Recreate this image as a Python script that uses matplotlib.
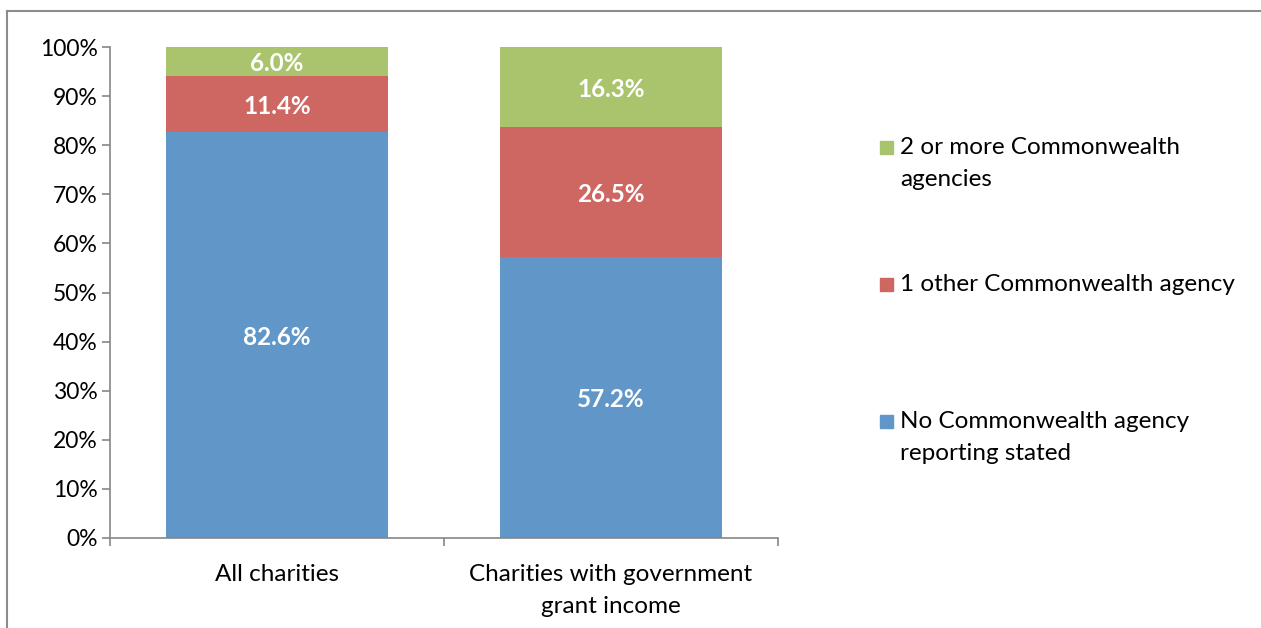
import matplotlib.pyplot as plt
from matplotlib.lines import Line2D
from matplotlib.patches import Rectangle
import numpy as np

categories = ["All charities", "Charities with government\ngrant income"]
series_names = ["No Commonwealth agency\nreporting stated",
                "1 other Commonwealth agency",
                "2 or more Commonwealth\nagencies"]
none_stated = [82.6, 57.2]
one_other = [11.4, 26.5]
two_or_more = [6.0, 16.3]
colors = ["#6196C8", "#CE6661", "#AAC46D"]

plt.rcParams['font.family'] = ['Lato', 'DejaVu Sans']

fig = plt.figure(figsize=(12.61, 6.28), dpi=100)
ax = fig.add_axes([110 / 1261, 1 - 538 / 628, 668 / 1261, 491 / 628])

x = np.arange(len(categories))
bottom = np.zeros(len(categories))
for vals, col in zip([none_stated, one_other, two_or_more], colors):
    bars = ax.bar(x, vals, bottom=bottom, width=0.665, color=col, zorder=2)
    for xi, b, v in zip(x, bottom, vals):
        ax.text(xi, b + v / 2, f"{v:.1f}%", ha='center', va='center_baseline',
                color='white', fontsize=17.5, fontweight='bold')
    bottom += np.array(vals)

ax.set_xlim(-0.5, 1.5)
ax.set_ylim(0, 100)
ax.set_yticks(np.arange(0, 101, 10))
ax.set_yticklabels([f"{v}%" for v in range(0, 101, 10)], fontsize=16.5)
ax.set_xticks([-0.5, 0.5, 1.5])
ax.set_xticklabels([])
for sp in ['top', 'right']:
    ax.spines[sp].set_visible(False)
for sp in ['left', 'bottom']:
    ax.spines[sp].set_color('#868686')
    ax.spines[sp].set_linewidth(1.2)
ax.tick_params(axis='both', direction='out', length=6, color='#868686', width=1.2)
ax.tick_params(axis='y', pad=3)

for xi, lab in zip(x, categories):
    ax.text(xi, -5.2, lab, ha='center', va='top', fontsize=17.5,
            linespacing=1.65, transform=ax.transData, clip_on=False)

# legend drawn by hand, top to bottom
leg_items = [(series_names[2], colors[2], 147),
             (series_names[1], colors[1], 284),
             (series_names[0], colors[0], 421)]
for name, col, ypx in leg_items:
    fig.patches.append(Rectangle((880 / 1261, 1 - (ypx + 7) / 628), 13 / 1261, 13 / 628,
                                 transform=fig.transFigure, color=col))
    fig.text(900 / 1261, 1 - (ypx - 10) / 628, name, ha='left', va='top',
             fontsize=17.5, linespacing=1.65)

# outer frame
fig.lines.append(Line2D([7 / 1261, 7 / 1261], [0, 1 - 11 / 628], transform=fig.transFigure,
                        color='#8c8c8c', linewidth=1.5))
fig.lines.append(Line2D([7 / 1261, 1], [1 - 11 / 628, 1 - 11 / 628], transform=fig.transFigure,
                        color='#8c8c8c', linewidth=1.5))

fig.savefig("out.png", dpi=100)
